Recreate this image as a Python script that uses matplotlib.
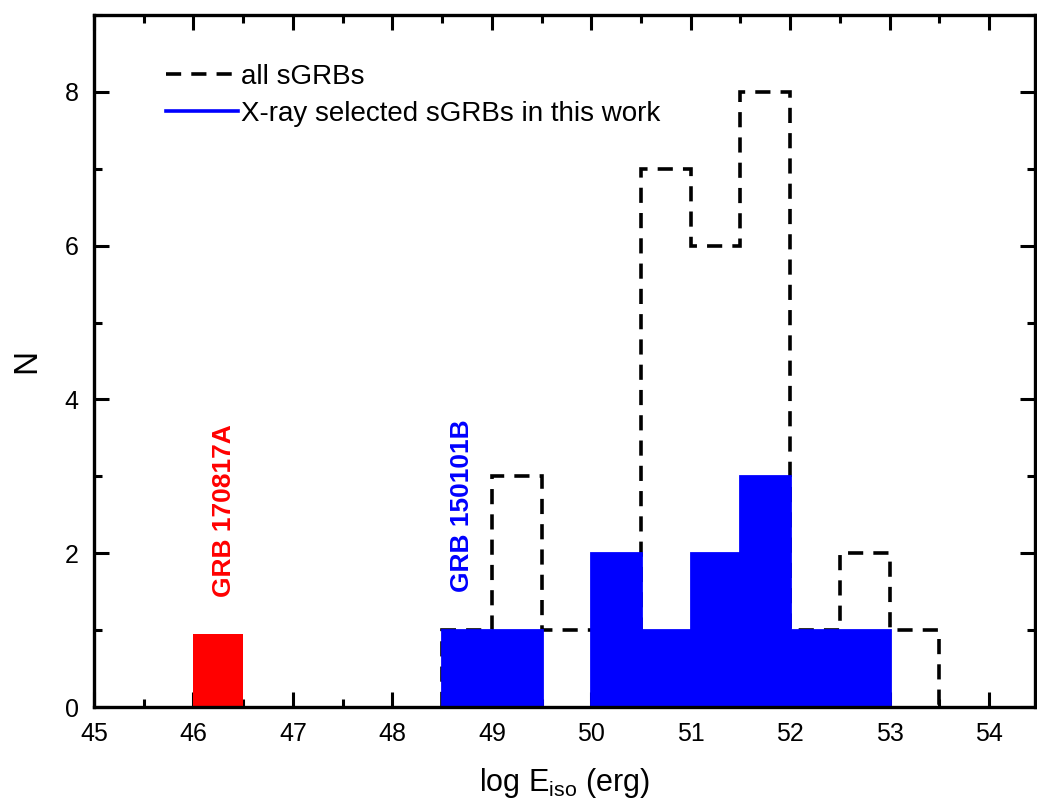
import numpy as np
import matplotlib
matplotlib.use("Agg")
import matplotlib.pyplot as plt
from matplotlib.ticker import MultipleLocator

plt.rcParams['font.family'] = ['Liberation Sans', 'DejaVu Sans']

# histogram bins (log E_iso, width 0.5)
edges_all = [48.5, 49.0, 49.5, 50.0, 50.5, 51.0, 51.5, 52.0, 52.5, 53.0, 53.5]
counts_all = [1, 3, 1, 1, 7, 6, 8, 1, 2, 1]

edges_xray = [48.5, 49.0, 49.5, 50.0, 50.5, 51.0, 51.5, 52.0, 52.5, 53.0]
counts_xray = [1, 1, 0, 2, 1, 2, 3, 1, 1]

edges_170817 = [46.0, 46.5]
counts_170817 = [0.95]

dash = (0, (4.2, 2.8))

fig = plt.figure(figsize=(10.37, 8.07), dpi=100)
ax = fig.add_axes([0.0906, 0.1239, 0.9074, 0.8575])

ax.stairs(counts_xray, edges_xray, fill=True, facecolor='#0000ff', edgecolor='#0000ff',
          linewidth=2.0, zorder=3)
ax.stairs(counts_170817, edges_170817, fill=True, color='#ff0000', zorder=3)
ax.stairs(counts_all, edges_all, color='black', linestyle=dash,
          linewidth=2.6, zorder=2)

# legend
ax.plot([], [], color='black', linestyle=dash, linewidth=2.6, label='all sGRBs')
ax.plot([], [], color='#0000ff', linewidth=2.6, label='X-ray selected sGRBs in this work')
ax.legend(loc='upper left', bbox_to_anchor=(0.053, 0.962), frameon=False, fontsize=20,
          handlelength=2.6, handletextpad=0.1, labelspacing=0.4, borderpad=0.3)

ax.text(46.31, 2.55, 'GRB 170817A', color='#ff0000', rotation=90, fontsize=19,
        fontweight='bold', ha='center', va='center')
ax.text(48.7, 2.62, 'GRB 150101B', color='#0000ff', rotation=90, fontsize=19,
        fontweight='bold', ha='center', va='center')

ax.set_xlim(45, 54.46)
ax.set_ylim(0, 9)
ax.xaxis.set_major_locator(MultipleLocator(1))
ax.xaxis.set_minor_locator(MultipleLocator(0.5))
ax.yaxis.set_major_locator(MultipleLocator(2))
ax.yaxis.set_minor_locator(MultipleLocator(1))
ax.tick_params(which='both', direction='in', top=True, right=True, width=2.2, labelsize=18)
ax.tick_params(which='major', length=11, pad=11)
ax.tick_params(which='minor', length=5.5)
for s in ax.spines.values():
    s.set_linewidth(2.4)
    s.set_zorder(5)

ax.set_xlabel(r'log E$_{\mathregular{iso}}$ (erg)', fontsize=22, labelpad=14)
ax.set_ylabel('N', fontsize=24, labelpad=16)

fig.savefig('out.png', dpi=100)
